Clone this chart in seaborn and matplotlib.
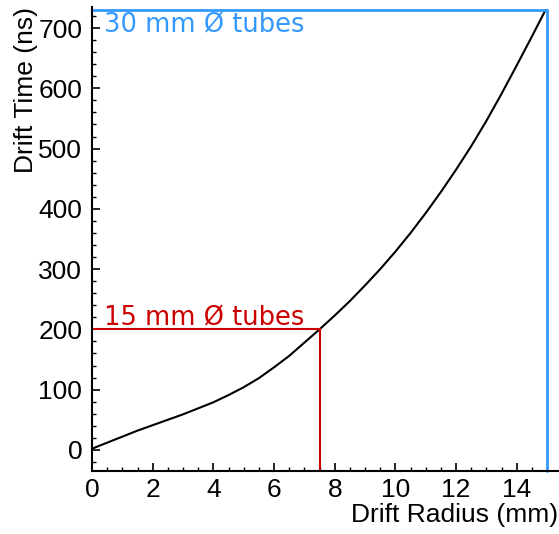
import numpy as np
import pandas as pd
import matplotlib
matplotlib.use("Agg")
import matplotlib.pyplot as plt
import seaborn as sns
from matplotlib.ticker import MultipleLocator

# drift radius (mm) vs drift time (ns)
radius = [0.0, 0.5, 1.0, 1.5, 2.0, 2.5, 3.0, 3.5, 4.0, 4.5, 5.0, 5.5, 6.0,
          6.5, 7.0, 7.5, 8.0, 8.5, 9.0, 9.5, 10.0, 10.5, 11.0, 11.5, 12.0,
          12.5, 13.0, 13.5, 14.0, 14.5, 14.95]
drift_time = [2, 12, 22, 32, 41, 50, 59, 69, 79, 91, 104, 119, 137,
              156, 178, 200, 223, 247, 273, 300, 329, 360, 393, 428, 465,
              504, 546, 591, 638, 686, 730]

# tube markers: (radius, max drift time)
tube15 = (7.5, 200)
tube30 = (15.0, 730)

sns.set_style("ticks")
plt.rcParams['font.family'] = ['Liberation Sans', 'DejaVu Sans']
plt.rcParams.update({
    'xtick.direction': 'in', 'ytick.direction': 'in',
    'xtick.color': 'black', 'ytick.color': 'black',
    'xtick.labelcolor': 'black', 'ytick.labelcolor': 'black',
    'axes.labelcolor': 'black', 'text.color': 'black',
})

fig = plt.figure(figsize=(5.59, 5.34), dpi=100)
ax = fig.add_axes([0.1646, 0.118, 0.8336, 0.869])

df = pd.DataFrame({'r': radius, 't': drift_time})
sns.lineplot(data=df, x='r', y='t', color='black', linewidth=1.5, ax=ax)

ymin, ymax = -35, 735
ax.set_xlim(0, 15.36)
ax.set_ylim(ymin, ymax)

# 15 mm tube guide
red = '#cc0000'
ax.plot([0, tube15[0]], [tube15[1], tube15[1]], color=red, lw=1.5)
ax.plot([tube15[0], tube15[0]], [ymin, tube15[1]], color=red, lw=1.5)
# 30 mm tube guide
blue = '#3399ff'
ax.plot([0, tube30[0]], [tube30[1], tube30[1]], color=blue, lw=2, clip_on=False)
ax.plot([tube30[0], tube30[0]], [ymin, tube30[1]], color=blue, lw=2, clip_on=False)

ax.text(0.38, 692, '30 mm Ø tubes', color=blue, fontsize=18.5,
        family='DejaVu Sans', va='baseline')
ax.text(0.38, 207, '15 mm Ø tubes', color=red, fontsize=18.5,
        family='DejaVu Sans', va='baseline')

sns.despine(ax=ax)
for s in ['left', 'bottom']:
    ax.spines[s].set_linewidth(1.5)
    ax.spines[s].set_color('black')

ax.xaxis.set_major_locator(MultipleLocator(2))
ax.xaxis.set_minor_locator(MultipleLocator(0.5))
ax.yaxis.set_major_locator(MultipleLocator(100))
ax.yaxis.set_minor_locator(MultipleLocator(20))
ax.tick_params(which='major', direction='in', length=6, width=1.2,
               labelsize=19, color='black', labelcolor='black')
ax.tick_params(which='minor', direction='in', length=3, width=1.0, color='black')
ax.tick_params(axis='y', which='major', pad=7)
ax.tick_params(axis='x', which='major', pad=5)

ax.set_xlabel('Drift Radius (mm)', fontsize=19, loc='right', labelpad=1,
              color='black')
ax.set_ylabel('Drift Time (ns)', fontsize=19, loc='top', labelpad=0,
              color='black')

fig.savefig('out.png', dpi=100)
